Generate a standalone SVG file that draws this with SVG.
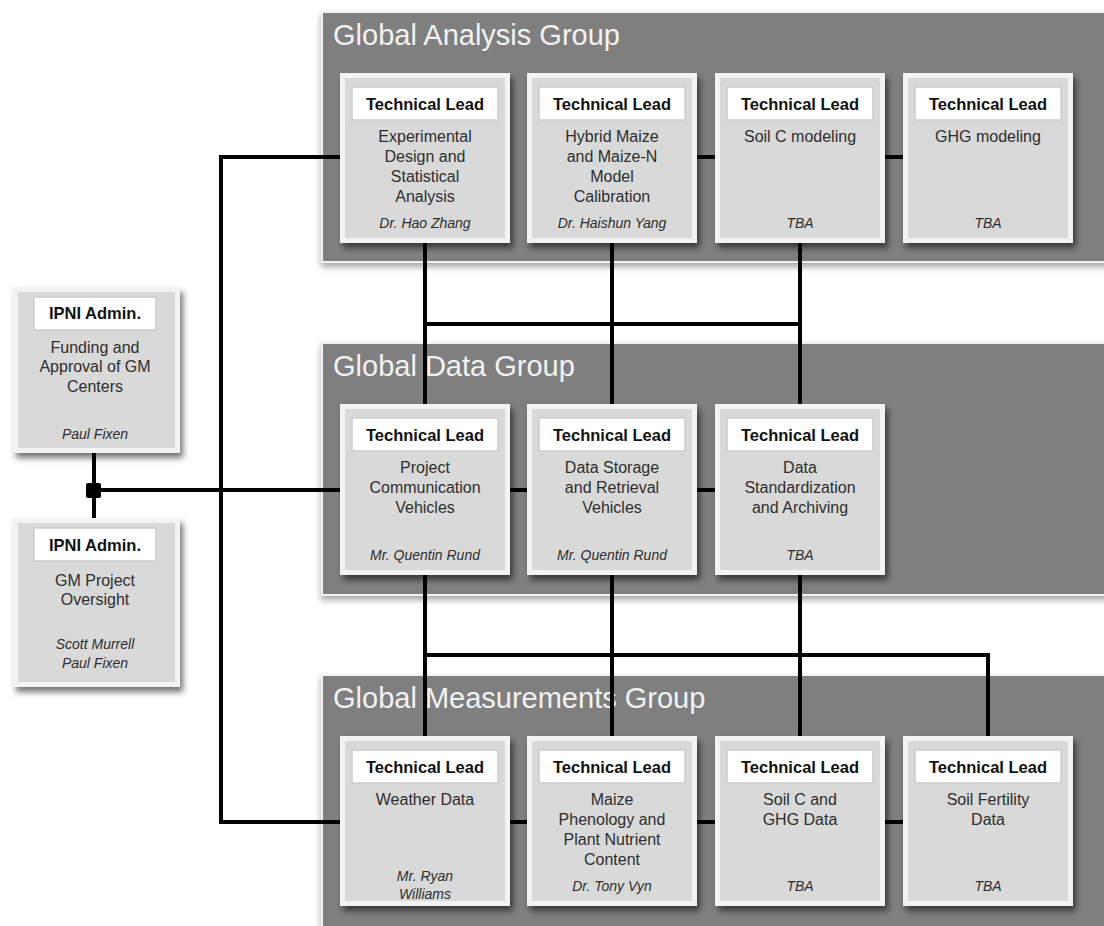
<svg xmlns="http://www.w3.org/2000/svg" width="1104" height="926" viewBox="0 0 1104 926">
<defs>
<filter id="sh" x="-10%" y="-10%" width="130%" height="130%"><feDropShadow dx="3" dy="5" stdDeviation="3" flood-color="#000" flood-opacity="0.55"/></filter>
<filter id="psh" x="-5%" y="-5%" width="110%" height="115%"><feDropShadow dx="0" dy="4" stdDeviation="3" flood-color="#000" flood-opacity="0.35"/></filter>
<style>
.panel{fill:#7f7f7f;stroke:#f2f2f2;stroke-width:2;filter:url(#psh)}
.ptitle{font-family:"Liberation Sans",Arial,sans-serif;font-size:29px;fill:#f2f2f2}
.outer{fill:#f3f3f3;filter:url(#sh)}
.inner{fill:#d9d9d9}
.lbl{fill:#ffffff;stroke:#cccccc;stroke-width:1.5}
.hd{font-family:"Liberation Sans",Arial,sans-serif;font-size:16.5px;font-weight:bold;fill:#111;text-anchor:middle}
.ds{font-family:"Liberation Sans",Arial,sans-serif;font-size:16px;fill:#2e2e2e;text-anchor:middle}
.nm{font-family:"Liberation Sans",Arial,sans-serif;font-size:14px;font-style:italic;fill:#2e2e2e;text-anchor:middle}
.cn{stroke:#000;stroke-width:4;fill:none}
</style>
</defs>
<rect width="1104" height="926" fill="#ffffff"/>

<g id="panels">
<g id="panel-analysis"><rect class="panel" x="322" y="12" width="790" height="250"/><text class="ptitle" x="333" y="45">Global Analysis Group</text></g>
<g id="panel-data"><rect class="panel" x="322" y="343" width="790" height="252"/><text class="ptitle" x="333" y="376">Global Data Group</text></g>
<g id="panel-measure"><rect class="panel" x="322" y="675" width="790" height="260"/><text class="ptitle" x="333" y="708">Global Measurements Group</text></g>
</g>

<g id="connectors">
<line class="cn" x1="94" y1="453" x2="94" y2="518"/>
<line class="cn" x1="94" y1="490" x2="345" y2="490"/>
<line class="cn" x1="500" y1="490" x2="720" y2="490"/>
<line class="cn" x1="221" y1="155" x2="221" y2="824"/>
<line class="cn" x1="219" y1="157" x2="345" y2="157"/>
<line class="cn" x1="690" y1="157" x2="910" y2="157"/>
<line class="cn" x1="219" y1="822" x2="910" y2="822"/>
<line class="cn" x1="425" y1="243" x2="425" y2="404"/>
<line class="cn" x1="612" y1="243" x2="612" y2="404"/>
<line class="cn" x1="800" y1="243" x2="800" y2="404"/>
<line class="cn" x1="423" y1="324" x2="802" y2="324"/>
<line class="cn" x1="425" y1="575" x2="425" y2="736"/>
<line class="cn" x1="612" y1="575" x2="612" y2="736"/>
<line class="cn" x1="800" y1="575" x2="800" y2="736"/>
<polyline class="cn" points="423,655 988,655 988,736"/>
<rect x="86" y="483" width="15" height="15" rx="2" fill="#000"/>
</g>

<g id="ipni-funding" transform="translate(13,287)">
<rect class="outer" width="167" height="166"/><rect class="inner" x="5" y="5" width="157" height="156"/>
<rect class="lbl" x="21" y="10" width="122" height="33"/>
<text class="hd" x="82" y="32">IPNI Admin.</text>
<text class="ds" x="82" y="65.5">Funding and</text>
<text class="ds" x="82" y="84.5">Approval of GM</text>
<text class="ds" x="82" y="104.5">Centers</text>
<text class="nm" x="82" y="151.5">Paul Fixen</text>
</g>

<g id="ipni-oversight" transform="translate(13,518)">
<rect class="outer" width="167" height="169"/><rect class="inner" x="5" y="5" width="157" height="159"/>
<rect class="lbl" x="21" y="10" width="122" height="33"/>
<text class="hd" x="82" y="33">IPNI Admin.</text>
<text class="ds" x="82" y="67.5">GM Project</text>
<text class="ds" x="82" y="86.5">Oversight</text>
<text class="nm" x="82" y="130.5">Scott Murrell</text>
<text class="nm" x="82" y="149.5">Paul Fixen</text>
</g>

<g id="a1" transform="translate(340,73)">
<rect class="outer" width="170" height="170"/><rect class="inner" x="5" y="5" width="160" height="160"/>
<rect class="lbl" x="12" y="14" width="146" height="33"/><text class="hd" x="85" y="37">Technical Lead</text>
<text class="ds" x="85" y="69">Experimental</text><text class="ds" x="85" y="89">Design and</text><text class="ds" x="85" y="109">Statistical</text><text class="ds" x="85" y="129">Analysis</text>
<text class="nm" x="85" y="155">Dr. Hao Zhang</text>
</g>
<g id="a2" transform="translate(527,73)">
<rect class="outer" width="170" height="170"/><rect class="inner" x="5" y="5" width="160" height="160"/>
<rect class="lbl" x="12" y="14" width="146" height="33"/><text class="hd" x="85" y="37">Technical Lead</text>
<text class="ds" x="85" y="69">Hybrid Maize</text><text class="ds" x="85" y="89">and Maize-N</text><text class="ds" x="85" y="109">Model</text><text class="ds" x="85" y="129">Calibration</text>
<text class="nm" x="85" y="155">Dr. Haishun Yang</text>
</g>
<g id="a3" transform="translate(715,73)">
<rect class="outer" width="170" height="170"/><rect class="inner" x="5" y="5" width="160" height="160"/>
<rect class="lbl" x="12" y="14" width="146" height="33"/><text class="hd" x="85" y="37">Technical Lead</text>
<text class="ds" x="85" y="69">Soil C modeling</text>
<text class="nm" x="85" y="155">TBA</text>
</g>
<g id="a4" transform="translate(903,73)">
<rect class="outer" width="170" height="170"/><rect class="inner" x="5" y="5" width="160" height="160"/>
<rect class="lbl" x="12" y="14" width="146" height="33"/><text class="hd" x="85" y="37">Technical Lead</text>
<text class="ds" x="85" y="69">GHG modeling</text>
<text class="nm" x="85" y="155">TBA</text>
</g>

<g id="d1" transform="translate(340,404)">
<rect class="outer" width="170" height="171"/><rect class="inner" x="5" y="5" width="160" height="161"/>
<rect class="lbl" x="12" y="14" width="146" height="33"/><text class="hd" x="85" y="37">Technical Lead</text>
<text class="ds" x="85" y="69">Project</text><text class="ds" x="85" y="89">Communication</text><text class="ds" x="85" y="109">Vehicles</text>
<text class="nm" x="85" y="156">Mr. Quentin Rund</text>
</g>
<g id="d2" transform="translate(527,404)">
<rect class="outer" width="170" height="171"/><rect class="inner" x="5" y="5" width="160" height="161"/>
<rect class="lbl" x="12" y="14" width="146" height="33"/><text class="hd" x="85" y="37">Technical Lead</text>
<text class="ds" x="85" y="69">Data Storage</text><text class="ds" x="85" y="89">and Retrieval</text><text class="ds" x="85" y="109">Vehicles</text>
<text class="nm" x="85" y="156">Mr. Quentin Rund</text>
</g>
<g id="d3" transform="translate(715,404)">
<rect class="outer" width="170" height="171"/><rect class="inner" x="5" y="5" width="160" height="161"/>
<rect class="lbl" x="12" y="14" width="146" height="33"/><text class="hd" x="85" y="37">Technical Lead</text>
<text class="ds" x="85" y="69">Data</text><text class="ds" x="85" y="89">Standardization</text><text class="ds" x="85" y="109">and Archiving</text>
<text class="nm" x="85" y="156">TBA</text>
</g>

<g id="m1" transform="translate(340,736)">
<rect class="outer" width="170" height="170"/><rect class="inner" x="5" y="5" width="160" height="160"/>
<rect class="lbl" x="12" y="14" width="146" height="33"/><text class="hd" x="85" y="37">Technical Lead</text>
<text class="ds" x="85" y="69">Weather Data</text>
<text class="nm" x="85" y="145">Mr. Ryan</text><text class="nm" x="85" y="163">Williams</text>
</g>
<g id="m2" transform="translate(527,736)">
<rect class="outer" width="170" height="170"/><rect class="inner" x="5" y="5" width="160" height="160"/>
<rect class="lbl" x="12" y="14" width="146" height="33"/><text class="hd" x="85" y="37">Technical Lead</text>
<text class="ds" x="85" y="69">Maize</text><text class="ds" x="85" y="89">Phenology and</text><text class="ds" x="85" y="109">Plant Nutrient</text><text class="ds" x="85" y="129">Content</text>
<text class="nm" x="85" y="155">Dr. Tony Vyn</text>
</g>
<g id="m3" transform="translate(715,736)">
<rect class="outer" width="170" height="170"/><rect class="inner" x="5" y="5" width="160" height="160"/>
<rect class="lbl" x="12" y="14" width="146" height="33"/><text class="hd" x="85" y="37">Technical Lead</text>
<text class="ds" x="85" y="69">Soil C and</text><text class="ds" x="85" y="89">GHG Data</text>
<text class="nm" x="85" y="155">TBA</text>
</g>
<g id="m4" transform="translate(903,736)">
<rect class="outer" width="170" height="170"/><rect class="inner" x="5" y="5" width="160" height="160"/>
<rect class="lbl" x="12" y="14" width="146" height="33"/><text class="hd" x="85" y="37">Technical Lead</text>
<text class="ds" x="85" y="69">Soil Fertility</text><text class="ds" x="85" y="89">Data</text>
<text class="nm" x="85" y="155">TBA</text>
</g>
</svg>
